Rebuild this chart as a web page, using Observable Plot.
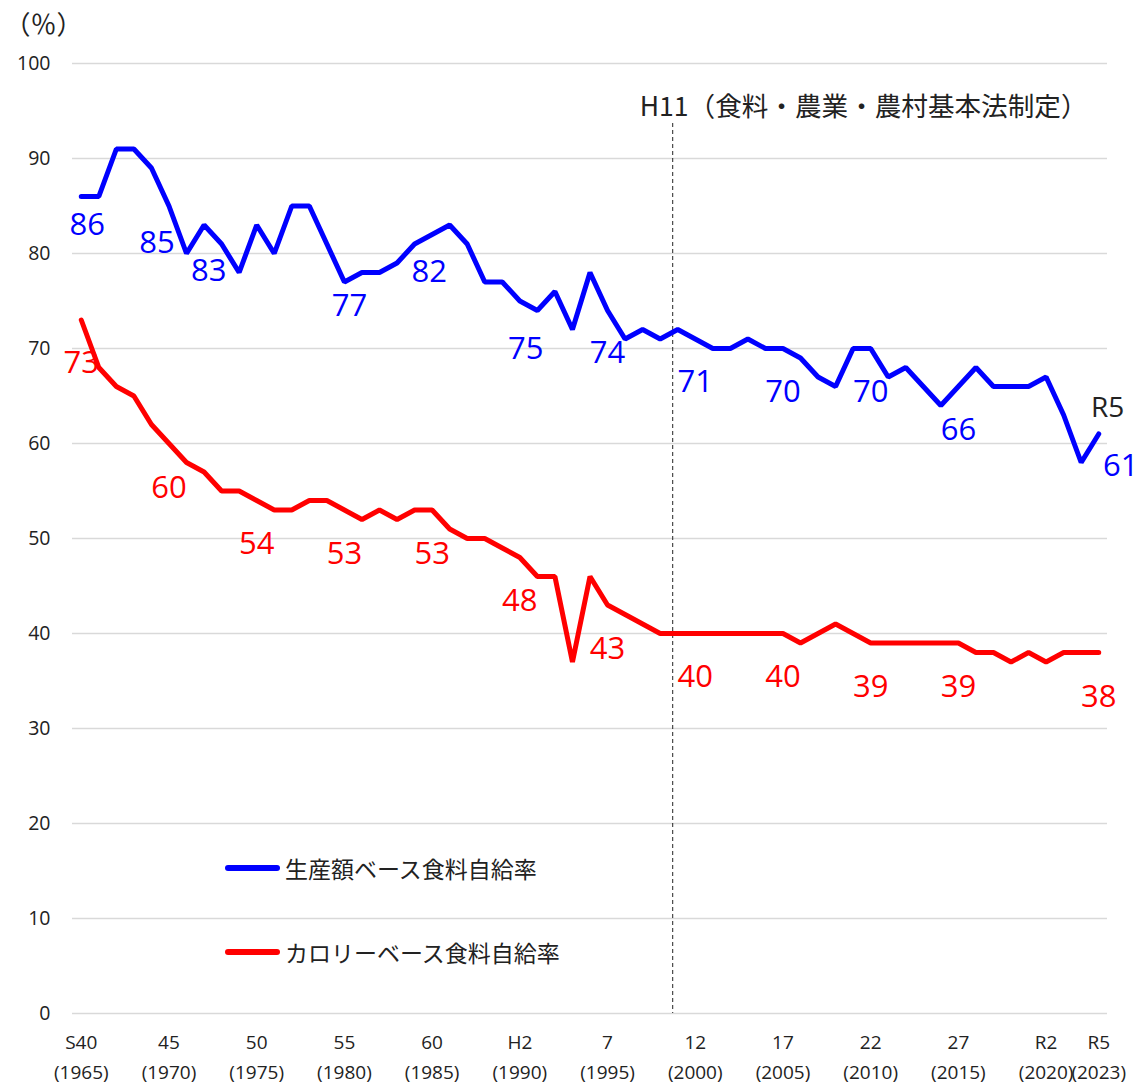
<!DOCTYPE html>
<html><head><meta charset="utf-8">
<script src="https://cdn.jsdelivr.net/npm/d3@7"></script>
<script src="https://cdn.jsdelivr.net/npm/@observablehq/plot@0.6"></script>
<style>
body{margin:0;background:#fff;}
#wrap{position:relative;width:1138px;height:1086px;overflow:hidden;}
.legend{position:absolute;display:flex;align-items:center;font-family:"Noto Sans CJK JP",sans-serif;font-size:23px;color:#222;line-height:1;}
.legend .sw{width:55px;height:6px;border-radius:3px;margin-right:5px;}
</style></head><body><div id="wrap"></div>
<script>
const years = d3.range(1965, 2024);
const productionRate = [86,86,91,91,89,85,80,83,81,78,83,80,85,85,81,77,78,78,79,81,
  82,83,81,77,77,75,74,76,72,78,74,71,72,71,72,71,70,70,71,70,70,69,67,66,70,70,67,68,66,64,
  66,68,66,66,66,67,63,58,61];
const calorieRate = [73,68,66,65,62,60,58,57,55,55,54,53,53,54,54,53,52,53,52,53,
  53,51,50,50,49,48,46,46,37,46,43,42,41,40,40,40,40,40,40,40,40,39,40,41,40,39,39,39,39,39,
  39,38,38,37,38,37,38,38,38];
const tickYears = [1965,1970,1975,1980,1985,1990,1995,2000,2005,2010,2015,2020,2023];
const eraLabels = ["S40","45","50","55","60","H2","7","12","17","22","27","R2","R5"];
const labelYears = [1965,1970,1975,1980,1985,1990,1995,2000,2005,2010,2015,2023];
const productionLabelOffsets = [[6,29],[-12,37],[-48,46],[5,24],[-3,38],[6,48],[0,43],[0,43],[0,44],[0,44],[0,44],[22,32]];
const calorieLabelOffsets = [[0,43],[0,45],[0,44],[0,44],[0,44],[0,44],[0,44],[0,44],[0,44],[0,44],[0,44],[0,45]];
const seriesNames = ["生産額ベース食料自給率","カロリーベース食料自給率"];
const seriesColors = ["#0000ff","#ff0000"];
const eventYear = 1999;
const eventLabel = "H11（食料・農業・農村基本法制定）";
const unitLabel = "（％）";

const production = years.map((y,i)=>({year:y, value:productionRate[i]}));
const calorie = years.map((y,i)=>({year:y, value:calorieRate[i]}));

function labelMarks(series, offsets, color) {
  return labelYears.map((yr, i) => {
    const d = series.find(p => p.year === yr);
    return Plot.text([d], {x:"year", y:"value", text: p => String(p.value),
      dx: offsets[i][0], dy: offsets[i][1], fill: color, fontSize: 31, lineAnchor:"middle"});
  });
}

const chart = Plot.plot({
  width: 1138, height: 1086,
  marginTop: 63, marginBottom: 73, marginLeft: 72, marginRight: 31,
  style: {fontFamily: "'Open Sans','Noto Sans CJK JP',sans-serif", fontSize:"19px", color:"#222", background:"#fff"},
  x: {domain:[1964.5, 2023.5]},
  y: {domain:[0,100]},
  marks: [
    Plot.gridY(d3.range(0,101,10), {stroke:"#d9d9d9", strokeOpacity:1, strokeWidth:1.5}),
    Plot.axisY(d3.range(0,101,10), {tickSize:0, tickPadding:22, fontSize:19.5, fill:"#222", label:null}),
    Plot.axisX(tickYears, {tickSize:0, tickPadding:15, fontSize:19, fill:"#222", label:null, lineHeight:1.55,
      tickFormat: d => eraLabels[tickYears.indexOf(d)] + "\n(" + d + ")"}),
    Plot.ruleX([eventYear], {dx:-5, insetTop:60, stroke:"#222", strokeWidth:1, strokeDasharray:"4,3"}),
    Plot.text([eventYear], {x: d=>d, text: ()=>eventLabel, frameAnchor:"top", lineAnchor:"middle",
      textAnchor:"start", dx:-38, dy:44, fontSize:26.6, fill:"#222", fontFamily:"'Noto Sans CJK JP',sans-serif"}),
    Plot.text([unitLabel], {frameAnchor:"top-left", lineAnchor:"middle", textAnchor:"start", dx:-68, dy:-38,
      fontSize:26, fill:"#222", fontFamily:"'Noto Sans CJK JP',sans-serif"}),
    Plot.line(production, {x:"year", y:"value", stroke:seriesColors[0], strokeWidth:5, strokeLinejoin:"miter", strokeLinecap:"round"}),
    Plot.line(calorie, {x:"year", y:"value", stroke:seriesColors[1], strokeWidth:5, strokeLinejoin:"miter", strokeLinecap:"round"}),
    ...labelMarks(production, productionLabelOffsets, seriesColors[0]),
    ...labelMarks(calorie, calorieLabelOffsets, seriesColors[1]),
    Plot.text([production[production.length-1]], {x:"year", y:"value", text: ()=> eraLabels[eraLabels.length-1],
      dx:9, dy:-26, fontSize:28, fill:"#222", lineAnchor:"middle"})
  ]
});
const wrap = document.getElementById("wrap");
wrap.appendChild(chart);
const legendTops = [868, 952];
seriesNames.forEach((name, i) => {
  const div = document.createElement("div");
  div.className = "legend";
  div.style.left = "225px";
  div.style.top = (legendTops[i] - 14) + "px";
  div.style.height = "28px";
  div.innerHTML = `<span class="sw" style="background:${seriesColors[i]}"></span><span>${name}</span>`;
  wrap.appendChild(div);
});
</script></body></html>
